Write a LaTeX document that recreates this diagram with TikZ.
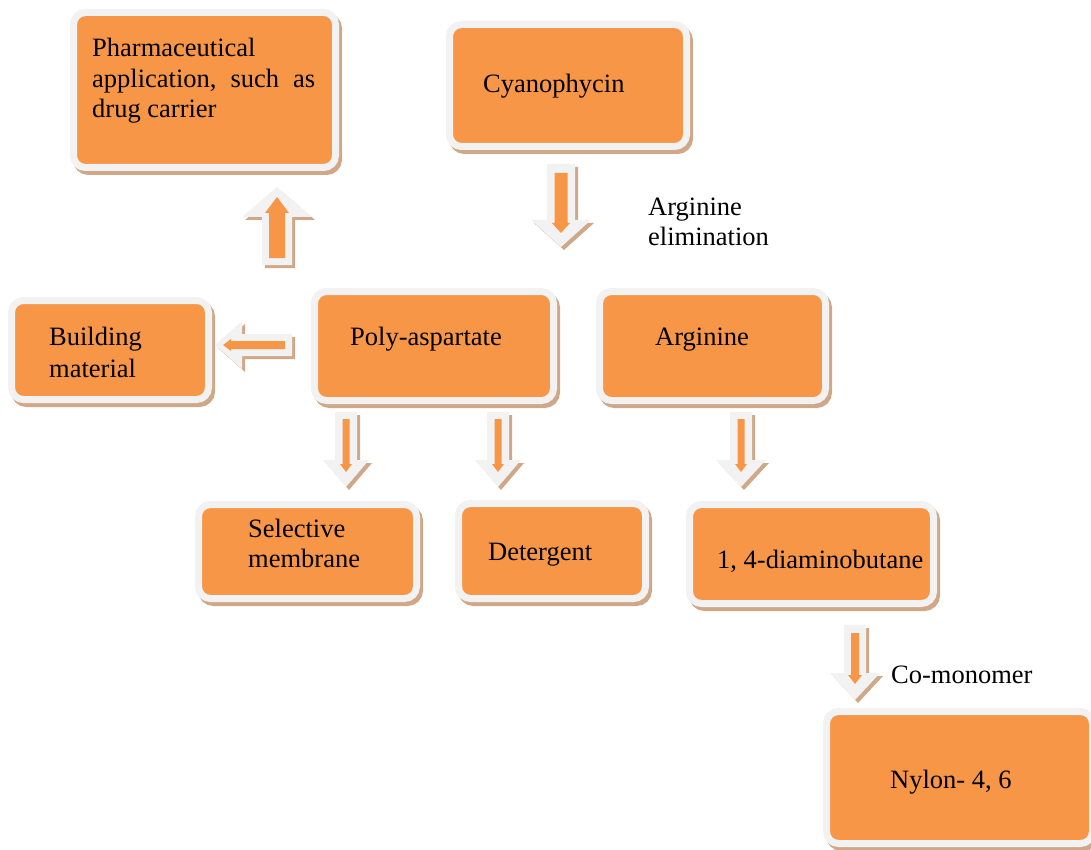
\documentclass[tikz,border=0pt]{standalone}
\usepackage{fontspec}
\setmainfont{Liberation Serif}
\usetikzlibrary{calc,shadows}
\definecolor{boxorange}{HTML}{F79646}
\definecolor{boxgray}{HTML}{F2F2F2}
\definecolor{shadowtan}{RGB}{208,168,135}
\tikzset{
  box/.style={rectangle, rounded corners=12pt, fill=boxorange, draw=boxgray, line width=7pt, inner sep=0pt,
    drop shadow={shadow xshift=3pt, shadow yshift=-4pt, fill=shadowtan, draw=shadowtan, line width=7pt, opacity=1}},
  lbl/.style={anchor=base west, inner sep=0pt, font=\fontsize{26.5}{30.5}\selectfont, align=left},
}
% inner orange area: name, x1, y1, x2, y2
\newcommand\boxat[5]{%
  \node[box, minimum width={#4-#2+7}, minimum height={#5-#3+7}] (#1) at ({(#2+#4)/2},{(#3+#5)/2}) {};}
% block arrow shape: tail, tip, shaft half, head half, head length, fill
\newcommand\shapearrow[6]{%
  \fill[#6] ($(#1)!#3!90:(#2)$) -- ($(#2)!#5!(#1)!#3!90:(#2)$) -- ($(#2)!#5!(#1)!#4!90:(#2)$)
    -- (#2) -- ($(#2)!#5!(#1)!#4!-90:(#2)$) -- ($(#2)!#5!(#1)!#3!-90:(#2)$) -- ($(#1)!#3!-90:(#2)$) -- cycle;}
\newcommand\shadowarrow[5]{%
  \coordinate (sA) at ($(#1)+(3,3)$); \coordinate (sB) at ($(#2)+(3,3)$);
  \shapearrow{sA}{sB}{#3}{#4}{#5}{shadowtan}}
\begin{document}
\begin{tikzpicture}[x=1pt,y=-1pt]
\useasboundingbox (0,0) rectangle (1091,850);
% boxes
\boxat{pharm}{77}{16}{332}{164}
\boxat{cyan}{453}{28}{683}{143}
\boxat{build}{15}{304}{205}{396}
\boxat{poly}{318}{295}{550}{397}
\boxat{arg}{603}{295}{822}{397}
\boxat{sel}{202}{508}{413}{595}
\boxat{det}{462}{507}{642}{595}
\boxat{dab}{693}{508}{930}{600}
\boxat{nylon}{830}{715}{1089}{840}
% texts (multi-line: anchored at baseline of last line)
\node[lbl] (pharm-t) at (92,118) {Pharmaceutical\\\hbox to 223pt{application,\hfill such\hfill as}\\drug carrier};
\node[lbl] (cyan-t) at (483,93) {Cyanophycin};
\node[lbl, font=\fontsize{26.5}{30}\selectfont] (elim-t) at (648,246) {Arginine\\elimination};
\node[lbl, font=\fontsize{26.5}{32}\selectfont] (build-t) at (49,377) {Building\\material};
\node[lbl, font=\fontsize{26.5}{30}\selectfont] (poly-t) at (350,345) {Poly-aspartate};
\node[lbl] (arg-t) at (655,345) {Arginine};
\node[lbl, font=\fontsize{26.5}{30}\selectfont] (sel-t) at (248,567) {Selective\\membrane};
\node[lbl] (det-t) at (488,560) {Detergent};
\node[lbl] (dab-t) at (717,568) {1, 4-diaminobutane};
\node[lbl] (como-t) at (891,683) {Co-monomer};
\node[lbl] (nylon-t) at (890,788) {Nylon- 4, 6};
% connector coordinates
\coordinate (c1t) at (561,164); \coordinate (c1h) at (561,247);
\coordinate (c1it) at (561,173); \coordinate (c1ih) at (561,233);
\coordinate (c2t) at (346,412); \coordinate (c2h) at (346,487);
\coordinate (c2it) at (346,419); \coordinate (c2ih) at (346,472);
\coordinate (c3t) at (498,412); \coordinate (c3h) at (498,487);
\coordinate (c3it) at (498,419); \coordinate (c3ih) at (498,472);
\coordinate (c4t) at (741,412); \coordinate (c4h) at (741,487);
\coordinate (c4it) at (741,419); \coordinate (c4ih) at (741,472);
\coordinate (c5t) at (855,625); \coordinate (c5h) at (855,700);
\coordinate (c5it) at (855,633); \coordinate (c5ih) at (855,684);
\coordinate (c6t) at (292,345); \coordinate (c6h) at (215,345);
\coordinate (c6it) at (285,345); \coordinate (c6ih) at (223,345);
\coordinate (c7t) at (277,265); \coordinate (c7h) at (277,187);
\coordinate (c7it) at (277,258); \coordinate (c7ih) at (277,197);
% connectors: cyan -> poly/arg
\shadowarrow{c1t}{c1h}{14pt}{30pt}{27pt}
\shapearrow{c1t}{c1h}{14pt}{30pt}{27pt}{boxgray}
\shapearrow{c1it}{c1ih}{6.5pt}{9pt}{10pt}{boxorange}
% poly -> selective
\shadowarrow{c2t}{c2h}{11pt}{23pt}{27pt}
\shapearrow{c2t}{c2h}{11pt}{23pt}{27pt}{boxgray}
\shapearrow{c2it}{c2ih}{3.5pt}{6pt}{8pt}{boxorange}
% poly -> detergent
\shadowarrow{c3t}{c3h}{11pt}{23pt}{27pt}
\shapearrow{c3t}{c3h}{11pt}{23pt}{27pt}{boxgray}
\shapearrow{c3it}{c3ih}{3.5pt}{6pt}{8pt}{boxorange}
% arginine -> diaminobutane
\shadowarrow{c4t}{c4h}{11pt}{25pt}{27pt}
\shapearrow{c4t}{c4h}{11pt}{25pt}{27pt}{boxgray}
\shapearrow{c4it}{c4ih}{3.5pt}{6pt}{8pt}{boxorange}
% diaminobutane -> nylon
\shadowarrow{c5t}{c5h}{11pt}{25pt}{27pt}
\shapearrow{c5t}{c5h}{11pt}{25pt}{27pt}{boxgray}
\shapearrow{c5it}{c5ih}{4pt}{7pt}{9pt}{boxorange}
% poly -> building
\shadowarrow{c6t}{c6h}{11pt}{24pt}{27pt}
\shapearrow{c6t}{c6h}{11pt}{24pt}{27pt}{boxgray}
\shapearrow{c6it}{c6ih}{4pt}{6pt}{8pt}{boxorange}
% up to pharmaceutical
\shadowarrow{c7t}{c7h}{15pt}{35pt}{30pt}
\shapearrow{c7t}{c7h}{15pt}{35pt}{30pt}{boxgray}
\shapearrow{c7it}{c7ih}{8pt}{12pt}{16pt}{boxorange}
\end{tikzpicture}
\end{document}
